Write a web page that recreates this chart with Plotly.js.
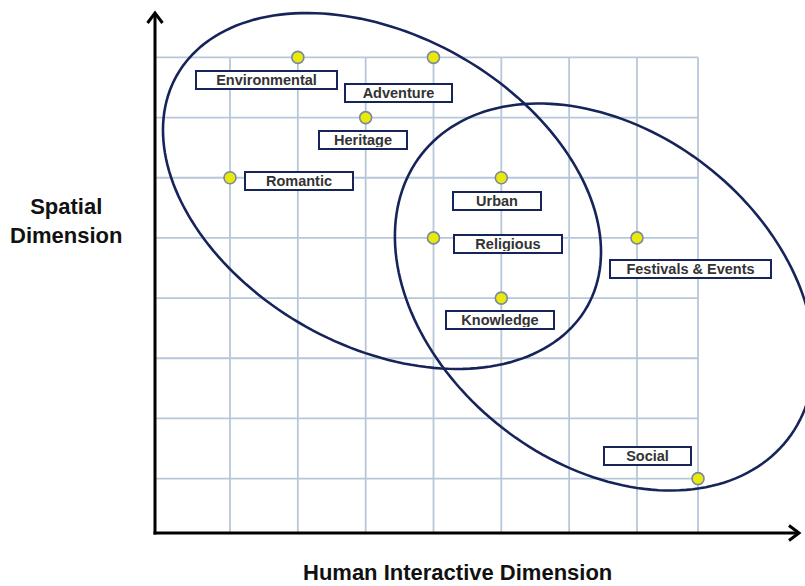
<!DOCTYPE html>
<html><head><meta charset="utf-8">
<script src="https://cdn.plot.ly/plotly-3.0.1.min.js"></script>
<style>html,body{margin:0;padding:0;background:#fff}#chart{width:805px;height:586px}</style>
</head><body><div id="chart"></div>
<script>
// ---- data ----
const categories = ['Environmental','Adventure','Heritage','Romantic','Urban','Religious','Festivals & Events','Knowledge','Social'];
const humanInteractive = [2, 4, 3, 1, 5, 4, 7, 5, 7.9];
const spatial = [8, 8, 7, 6, 6, 5, 5, 4, 1];
const xGridLines = [1, 2, 3, 4, 5, 6, 7, 7.9];
const yGridLines = [1, 2, 3, 4, 5, 6, 7, 8];
const xAxisTitle = 'Human Interactive Dimension';
const yAxisTitle = 'Spatial<br>Dimension';

// ---- layout geometry ----
const W = 805, H = 586;
const PX_X = 67.83, PX_Y = 60.17, X1PX = 230, YMIDPX = 268;
const xRange = [1 - X1PX / PX_X, 1 + (W - X1PX) / PX_X];
const yRange = [4.5 - (H - YMIDPX) / PX_Y, 4.5 + YMIDPX / PX_Y];
const pxToX = px => 1 + (px - X1PX) / PX_X;
const pyToY = py => 4.5 + (YMIDPX - py) / PX_Y;
const AX_PX = 155, AY_PX = 533;

// label box offsets (px from dot to box centre) and box widths
const labelStyle = {
  'Environmental': {dx: -31.5, dy: 22.5, w: 143},
  'Adventure': {dx: -34.5, dy: 35.5, w: 109},
  'Heritage': {dx: -3, dy: 22, w: 90},
  'Romantic': {dx: 69, dy: 3, w: 110},
  'Urban': {dx: -4, dy: 23.5, w: 90},
  'Religious': {dx: 75, dy: 6, w: 110},
  'Festivals & Events': {dx: 53.5, dy: 31, w: 163},
  'Knowledge': {dx: -1, dy: 22, w: 110},
  'Social': {dx: -50.5, dy: -23, w: 89}
};

const NAVY = '#172459';
const GRID = '#b7c7da';

const shapes = [];
// grid
const xTop = Math.max(...xGridLines), yTop = Math.max(...yGridLines);
xGridLines.forEach(g => shapes.push({type: 'line', xref: 'x', yref: 'y', x0: g, x1: g, y0: pyToY(AY_PX), y1: yTop, layer: 'below', line: {color: GRID, width: 1.8}}));
yGridLines.forEach(g => shapes.push({type: 'line', xref: 'x', yref: 'y', x0: pxToX(AX_PX), x1: xTop, y0: g, y1: g, layer: 'below', line: {color: GRID, width: 1.8}}));

// ellipses
function ellipsePath(cx, cy, a, b, deg) {
  const th = deg * Math.PI / 180; let d = '';
  for (let k = 0; k <= 180; k++) {
    const t = k / 180 * 2 * Math.PI;
    const px = cx + a * Math.cos(t) * Math.cos(th) - b * Math.sin(t) * Math.sin(th);
    const py = cy + a * Math.cos(t) * Math.sin(th) + b * Math.sin(t) * Math.cos(th);
    d += (k ? 'L' : 'M') + pxToX(px).toFixed(4) + ',' + pyToY(py).toFixed(4);
  }
  return d + 'Z';
}
shapes.push({type: 'path', xref: 'x', yref: 'y', path: ellipsePath(382, 191, 235.5, 155.5, 29.3), line: {color: NAVY, width: 2.6}, layer: 'below'});
shapes.push({type: 'path', xref: 'x', yref: 'y', path: ellipsePath(604.5, 297, 232, 166, 37.85), line: {color: NAVY, width: 2.6}, layer: 'below'});

// axes with chevron arrows (paper coordinates)
const pX = px => px / W, pY = py => 1 - py / H;
shapes.push({type: 'line', xref: 'paper', yref: 'paper', x0: pX(AX_PX), x1: pX(AX_PX), y0: pY(AY_PX + 1.5), y1: pY(14), line: {color: '#000', width: 3}});
shapes.push({type: 'line', xref: 'paper', yref: 'paper', x0: pX(AX_PX - 1.5), x1: pX(798), y0: pY(AY_PX), y1: pY(AY_PX), line: {color: '#000', width: 3}});
shapes.push({type: 'path', xref: 'paper', yref: 'paper', path: `M${pX(147.5)},${pY(23)} L${pX(155)},${pY(13)} L${pX(162.5)},${pY(23)}`, line: {color: '#000', width: 3}});
shapes.push({type: 'path', xref: 'paper', yref: 'paper', path: `M${pX(789)},${pY(525.5)} L${pX(799)},${pY(533)} L${pX(789)},${pY(540.5)}`, line: {color: '#000', width: 3}});

// annotations
const annotations = categories.map((c, i) => {
  const s = labelStyle[c];
  return {x: humanInteractive[i], y: spatial[i], xref: 'x', yref: 'y', text: c, showarrow: false,
    xanchor: 'center', yanchor: 'middle',
    xshift: s.dx, yshift: -s.dy, width: s.w - 6, height: 14, align: 'center', valign: 'middle',
    bgcolor: '#fff', bordercolor: NAVY, borderwidth: 2, borderpad: 1,
    font: {family: 'Liberation Sans, Arial, sans-serif', size: 14.5, weight: 700, color: '#333'}};
});
annotations.push({xref: 'paper', yref: 'paper', x: pX(66), y: pY(221), xanchor: 'center', yanchor: 'middle',
  text: yAxisTitle, showarrow: false,
  font: {family: 'Liberation Sans, Arial, sans-serif', size: 22, weight: 700, color: '#111'}, align: 'center'});
annotations.push({xref: 'paper', yref: 'paper', x: pX(457), y: pY(572), xanchor: 'center', yanchor: 'middle',
  text: xAxisTitle, showarrow: false,
  font: {family: 'Liberation Sans Narrow, Liberation Sans, Arial, sans-serif', size: 22, weight: 700, color: '#111'}});

const trace = {x: humanInteractive, y: spatial, text: categories, mode: 'markers', type: 'scatter',
  marker: {size: 12, color: '#e9e90c', line: {color: '#7a88a0', width: 1.6}}, hoverinfo: 'text', cliponaxis: false};

const layout = {
  width: W, height: H, margin: {l: 0, r: 0, t: 0, b: 0}, paper_bgcolor: '#fff', plot_bgcolor: '#fff',
  showlegend: false,
  xaxis: {range: xRange, visible: false, showgrid: false, zeroline: false, fixedrange: true},
  yaxis: {range: yRange, visible: false, showgrid: false, zeroline: false, fixedrange: true},
  shapes: shapes, annotations: annotations
};
Plotly.newPlot('chart', [trace], layout, {staticPlot: true, displayModeBar: false});
</script></body></html>
